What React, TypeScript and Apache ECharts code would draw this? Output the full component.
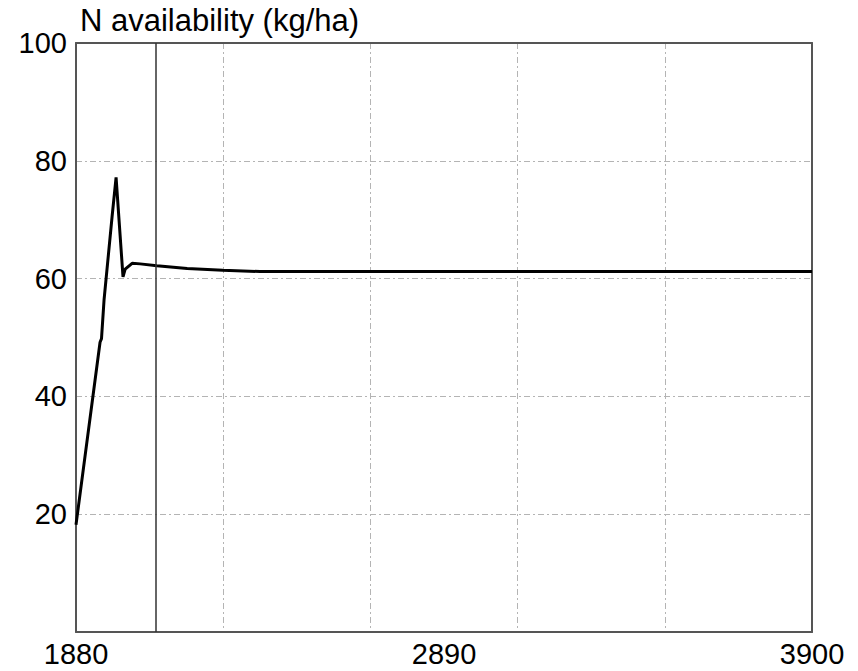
import React, { useEffect, useRef } from "react";
import * as echarts from "echarts";

const START_YEAR = 1880;
const END_YEAR = 3900;
const years = [1880, 1946, 1950, 1957, 1979, 1990, 2009, 2015, 2034, 2056, 2102, 2185, 2283, 2385, 2600, 3000, 3500, 3900];
const nAvailability = [18.2, 49.2, 49.8, 56.4, 70.5, 77.2, 60.3, 61.6, 62.6, 62.5, 62.2, 61.7, 61.4, 61.2, 61.2, 61.2, 61.2, 61.2];
const xLabelTicks = [1880, 2890, 3900];
const yTicks = [20, 40, 60, 80, 100];
const markerYear = 2100;
const titleText = "N availability (kg/ha)";

export default function App() {
  const ref = useRef<HTMLDivElement>(null);
  useEffect(() => {
    if (!ref.current) return;
    const chart = echarts.init(ref.current, undefined, { renderer: "svg" });
    const font = "Liberation Sans";
    const span = END_YEAR - START_YEAR;
    const data = years.map((y, i) => [y - START_YEAR, nAvailability[i]]);
    const border = { show: true, onZero: false, lineStyle: { color: "#555", width: 2 } };
    const grid = { show: true, lineStyle: { color: "#b4b4b4", width: 1, type: [6, 3, 2, 3] } };
    chart.setOption({
      animation: false,
      backgroundColor: "#fff",
      title: {
        text: titleText,
        left: 75,
        top: 0,
        textStyle: { fontFamily: font, fontSize: 31, fontWeight: "normal", color: "#000" },
      },
      grid: { left: 76, right: 46, top: 43, bottom: 39 },
      xAxis: [
        {
          type: "value",
          position: "top",
          min: 0,
          max: span,
          interval: span / 5,
          axisLine: border,
          axisTick: { show: false },
          axisLabel: { show: false },
          splitLine: grid,
        },
        {
          type: "value",
          position: "bottom",
          min: 0,
          max: span,
          interval: span / (xLabelTicks.length - 1),
          axisLine: border,
          axisTick: { show: false },
          splitLine: { show: false },
          axisLabel: {
            show: true,
            margin: 7,
            fontFamily: font,
            fontSize: 29,
            color: "#000",
            formatter: (v: number) => String(Math.round(v + START_YEAR)),
          },
        },
      ],
      yAxis: [
        {
          type: "value",
          position: "left",
          min: 0,
          max: 100,
          interval: 20,
          axisLine: border,
          axisTick: { show: false },
          axisLabel: {
            margin: 9,
            fontFamily: font,
            fontSize: 29,
            color: "#000",
            formatter: (v: number) => (yTicks.includes(v) ? String(v) : ""),
          },
          splitLine: grid,
        },
        {
          type: "value",
          position: "right",
          min: 0,
          max: 100,
          interval: 20,
          axisLine: border,
          axisTick: { show: false },
          axisLabel: { show: false },
          splitLine: { show: false },
        },
      ],
      series: [
        {
          type: "line",
          xAxisIndex: 1,
          yAxisIndex: 0,
          data,
          showSymbol: false,
          symbol: "none",
          lineStyle: { color: "#000", width: 3 },
          markLine: {
            silent: true,
            symbol: "none",
            label: { show: false },
            lineStyle: { color: "#333", width: 1.5, type: "solid" },
            data: [{ xAxis: markerYear - START_YEAR }],
          },
        },
      ],
    });
    return () => chart.dispose();
  }, []);
  return <div ref={ref} style={{ width: 858, height: 671, position: "absolute", left: 0, top: 0 }} />;
}
